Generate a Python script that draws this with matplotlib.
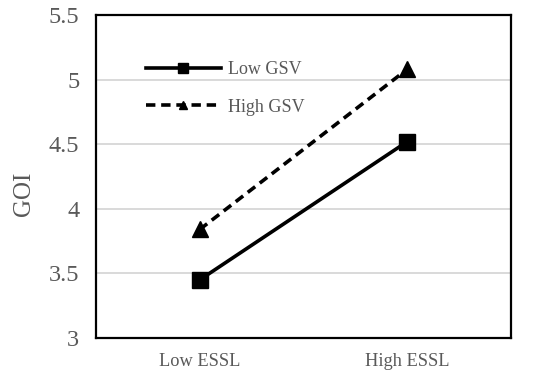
import matplotlib.pyplot as plt
from matplotlib.lines import Line2D

categories = ['Low ESSL', 'High ESSL']
low_gsv = [3.45, 4.52]
high_gsv = [3.84, 5.08]
y_ticks = [3, 3.5, 4, 4.5, 5, 5.5]
y_tick_labels = ['3', '3.5', '4', '4.5', '5', '5.5']

plt.rcParams['font.family'] = ['Liberation Serif', 'DejaVu Serif']

fig = plt.figure(figsize=(5.5, 3.8), dpi=100)
ax = fig.add_axes([0.1745, 0.1105, 0.7545, 0.85])

x = list(range(len(categories)))

# lineas principales
ax.plot(x, low_gsv, color='black', linewidth=2.6, marker='s', markersize=12,
        zorder=3)
ax.plot(x, high_gsv, color='black', linewidth=2.6, linestyle=(0, (2.6, 1.6)),
        marker='^', markersize=11, zorder=3)

ax.set_xlim(-0.5, 1.5)
ax.set_ylim(3, 5.5)
ax.set_xticks(x)
ax.set_xticklabels(categories)
ax.set_yticks(y_ticks)
ax.set_yticklabels(y_tick_labels)

ax.yaxis.grid(True, color='#d9d9d9', linewidth=1.4)
ax.set_axisbelow(True)

for s in ax.spines.values():
    s.set_linewidth(1.6)
    s.set_color('black')

ax.tick_params(axis='both', length=0, colors='#595959')
ax.tick_params(axis='y', labelsize=17.5, pad=12)
ax.tick_params(axis='x', labelsize=13.2, pad=11)

ax.set_ylabel('GOI', fontsize=18, color='#595959')
ax.yaxis.set_label_coords(-0.146, 0.446)

# leyenda con marcadores mas pequenos
handles = [
    Line2D([], [], color='black', linewidth=2.6, marker='s', markersize=7),
    Line2D([], [], color='black', linewidth=2.6, linestyle=(0, (2.6, 1.6)),
           marker='^', markersize=6),
]
leg = ax.legend(handles, ['Low GSV', 'High GSV'], loc='upper left',
                bbox_to_anchor=(0.12, 0.858), frameon=False, fontsize=13,
                handlelength=4.15, handletextpad=0.42, labelspacing=1.15,
                borderaxespad=0, borderpad=0)
for t in leg.get_texts():
    t.set_color('#595959')

plt.savefig('out.png', dpi=100)
plt.close(fig)
